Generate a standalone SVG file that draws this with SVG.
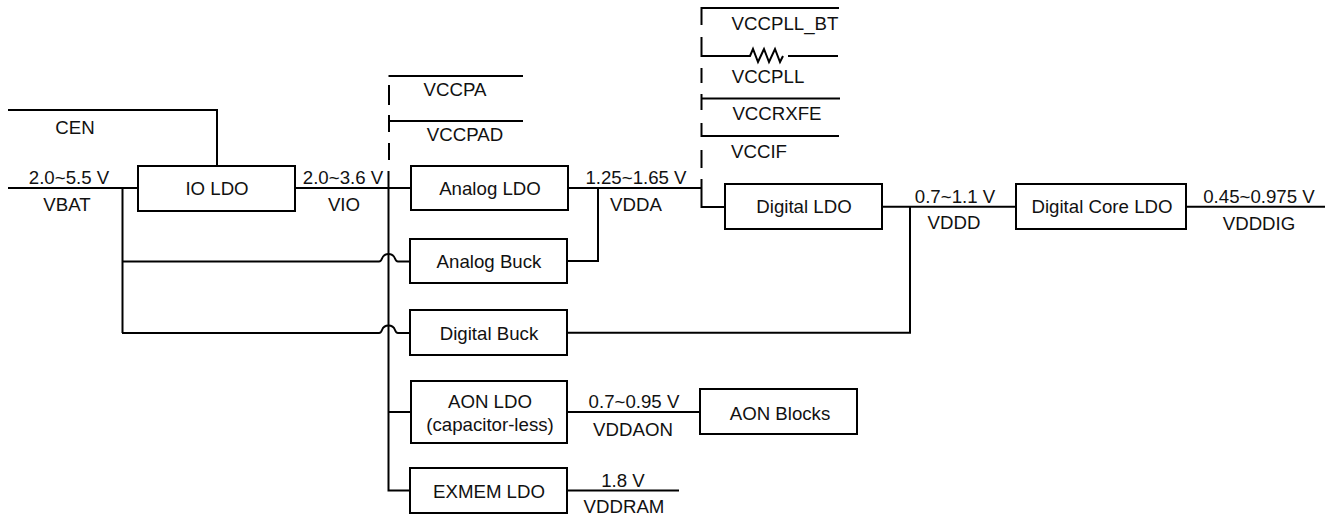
<svg xmlns="http://www.w3.org/2000/svg" width="1328" height="518" viewBox="0 0 1328 518">
<style>
.box{fill:#fff;stroke:#000;stroke-width:2}
.w{fill:none;stroke:#000;stroke-width:2}
.t{font-family:"Liberation Sans",Arial,sans-serif;font-size:18.67px;fill:#111;text-anchor:middle}
</style>
<rect width="1328" height="518" fill="#fff"/>
<g id="connectors">
<path class="w" d="M8 110H217V166"/>
<path class="w" d="M8 188H138"/>
<path class="w" d="M295 188H411"/>
<path class="w" d="M122.500 188V333"/>
<path class="w" d="M122 261.500H379Q381 261.500 382 258.500A7 7 0 0 1 395 258.500Q396 261.500 398 261.500H410"/>
<path class="w" d="M122 333H379Q381 333 382 330A7 7 0 0 1 395 330Q396 333 398 333H410"/>
<path class="w" d="M388.500 171V490.500H410"/>
<path class="w" d="M388.500 412H411"/>
<path class="w" d="M388.500 76H523"/>
<path class="w" d="M389 85V105M389 115V132M389 143V160"/>
<path class="w" d="M389 121H523"/>
<path class="w" d="M568 188H701.500"/>
<path class="w" d="M567 261H598V188"/>
<path class="w" d="M701.500 179V207H724"/>
<path class="w" d="M701.500 25V8H839"/>
<path class="w" d="M701.500 37V56H750L753 49L758 62L764 49L769 62L775 49L780 62L783 56M788 56H838"/>
<path class="w" d="M701.500 68V83M701.500 94V110M701.500 123V137M701.500 150V168"/>
<path class="w" d="M702 98.500H840"/>
<path class="w" d="M702 136H839"/>
<path class="w" d="M882 206.700H1016"/>
<path class="w" d="M567 332.700H910V206.700"/>
<path class="w" d="M1186 206.700H1325"/>
<path class="w" d="M567 412H700"/>
<path class="w" d="M567 490.500H679"/>
</g>
<g id="labels">
<text class="t" x="75" y="134">CEN</text>
<text class="t" x="69" y="184">2.0~5.5 V</text>
<text class="t" x="67" y="211">VBAT</text>
<text class="t" x="343" y="184">2.0~3.6 V</text>
<text class="t" x="344" y="211">VIO</text>
<text class="t" x="455" y="96">VCCPA</text>
<text class="t" x="465" y="141">VCCPAD</text>
<text class="t" x="636" y="184">1.25~1.65 V</text>
<text class="t" x="636" y="211">VDDA</text>
<text class="t" x="785" y="30">VCCPLL_BT</text>
<text class="t" x="768" y="83">VCCPLL</text>
<text class="t" x="777" y="120">VCCRXFE</text>
<text class="t" x="759" y="158">VCCIF</text>
<text class="t" x="955" y="203">0.7~1.1 V</text>
<text class="t" x="954" y="229">VDDD</text>
<text class="t" x="1259" y="203">0.45~0.975 V</text>
<text class="t" x="1259" y="230">VDDDIG</text>
<text class="t" x="634" y="408">0.7~0.95 V</text>
<text class="t" x="633" y="436">VDDAON</text>
<text class="t" x="623" y="487">1.8 V</text>
<text class="t" x="624" y="513">VDDRAM</text>
</g>
<g id="io-ldo"><rect class="box" x="138" y="166" width="157" height="45"/><text class="t" x="217" y="195">IO LDO</text></g>
<g id="analog-ldo"><rect class="box" x="411" y="166" width="157" height="44"/><text class="t" x="490" y="195">Analog LDO</text></g>
<g id="analog-buck"><rect class="box" x="410" y="239" width="157" height="44"/><text class="t" x="489" y="268">Analog Buck</text></g>
<g id="digital-ldo"><rect class="box" x="725" y="184" width="157" height="45"/><text class="t" x="804" y="213">Digital LDO</text></g>
<g id="digital-core-ldo"><rect class="box" x="1016" y="184" width="170" height="45"/><text class="t" x="1102" y="213">Digital Core LDO</text></g>
<g id="digital-buck"><rect class="box" x="410" y="310" width="157" height="45"/><text class="t" x="489" y="340">Digital Buck</text></g>
<g id="aon-ldo"><rect class="box" x="411" y="381" width="156" height="62"/><text class="t" x="490" y="408">AON LDO</text><text class="t" x="490" y="431">(capacitor-less)</text></g>
<g id="aon-blocks"><rect class="box" x="700" y="389" width="157" height="45"/><text class="t" x="780" y="420">AON Blocks</text></g>
<g id="exmem-ldo"><rect class="box" x="410" y="468" width="157" height="45"/><text class="t" x="489" y="498">EXMEM LDO</text></g>
</svg>
